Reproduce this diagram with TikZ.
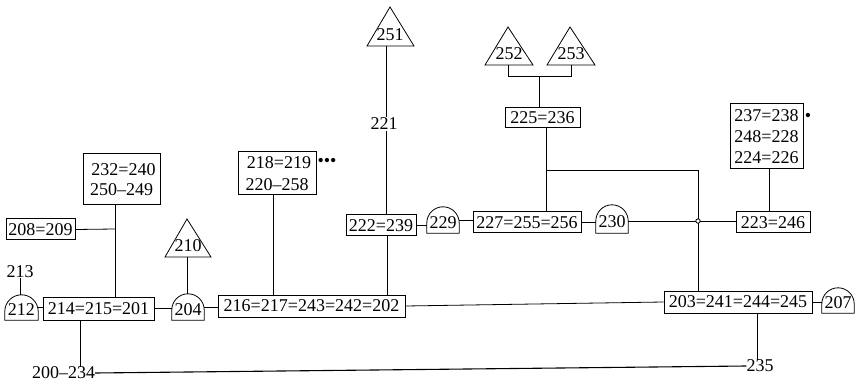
\documentclass[tikz,border=0pt]{standalone}
\usepackage{fontspec}
\setmainfont{Liberation Serif}
\usetikzlibrary{calc}
\newcommand\mydome[1]{\draw[ln] let \p1=(#1.south west), \p2=(#1.north east), \n1={(\x2-\x1)/2} in (\x1,\y1) -- (\x1,{\y2-\n1}) arc[start angle=180, end angle=0, radius=\n1] -- (\x2,\y1) -- cycle;}
\begin{document}
\begin{tikzpicture}[x=1pt,y=-1pt,
  txt/.style={font=\fontsize{18}{21}\selectfont},
  lbl/.style={txt, inner sep=0pt},
  box/.style={draw, line width=1pt, inner sep=0pt, txt, align=center},
  ln/.style={line width=0.8pt},
  domen/.style={lbl}
]
\useasboundingbox (0,0) rectangle (856,387);

% boxes
\node[box, minimum width=69pt, minimum height=21pt] (b208) at (40.5,229.5) {208=209};
\node[box, minimum width=77pt, minimum height=51pt, font=\fontsize{18}{20}\selectfont] (b232) at (121.5,179.5) {\hspace*{4pt}232=240\\250\textendash249};
\node[box, minimum width=111pt, minimum height=23pt] (b214) at (98.5,308.5) {214=215=201};
\node[box, minimum width=187pt, minimum height=22pt] (b216) at (311.5,306) {216=217=243=242=202};
\node[box, minimum width=78pt, minimum height=43pt, font=\fontsize{18}{22}\selectfont] (b218) at (277,173.5) {\hspace*{4pt}218=219\\220\textendash258};
\node[box, minimum width=70pt, minimum height=21pt] (b222) at (381,225.5) {222=239};
\node[box, minimum width=108pt, minimum height=21pt] (b227) at (527,222.5) {227=255=256};
\node[box, minimum width=75pt, minimum height=20pt] (b225) at (542.5,118) {225=236};
\node[box, minimum width=73pt, minimum height=65pt, font=\fontsize{18}{21}\selectfont] (b237) at (766.5,136.5) {237=238\\248=228\\224=226};
\node[box, minimum width=74pt, minimum height=21pt] (b223) at (773,222.5) {223=246};
\node[box, minimum width=148pt, minimum height=22pt] (b203) at (738,302) {203=241=244=245};

% domes
\node[domen, minimum width=33pt, minimum height=25pt] (d212) at (21.5,307.5) {};
\node[lbl] at (21.5,310) {212};
\node[domen, minimum width=32pt, minimum height=26pt] (d204) at (188,307) {};
\node[lbl] at (188,309.5) {204};
\node[domen, minimum width=32pt, minimum height=26pt] (d229) at (443,220) {};
\node[lbl] at (443,223) {229};
\node[domen, minimum width=32pt, minimum height=28pt] (d230) at (612,219) {};
\node[lbl] at (612,222) {230};
\node[domen, minimum width=32pt, minimum height=25pt] (d207) at (838,300.5) {};
\node[lbl] at (838,303) {207};
\mydome{d212}
\mydome{d204}
\mydome{d229}
\mydome{d230}
\mydome{d207}

% triangles
\draw[ln] (187,219) -- (211,257) -- (165,257) -- cycle;
\node[lbl] (t210) at (188,246) {210};
\coordinate (t210b) at (187,257);
\draw[ln] (390,7) -- (414,46) -- (367,46) -- cycle;
\node[lbl] (t251) at (390,35) {251};
\coordinate (t251b) at (386,46);
\draw[ln] (508,27) -- (533,65) -- (485,65) -- cycle;
\node[lbl] (t252) at (509,54) {252};
\coordinate (t252b) at (508,65);
\draw[ln] (570,27) -- (595,65) -- (547,65) -- cycle;
\node[lbl] (t253) at (571,54) {253};
\coordinate (t253b) at (571,65);

% free labels
\node[lbl] (l213) at (20,272) {213};
\node[lbl] (l200) at (63.5,373) {200\textendash234};
\node[lbl] (l235) at (760,366) {235};
\node[lbl] (dots1) at (327,162) {•••};
\node[lbl] (dots2) at (808,117) {•};

% helper coordinates
\coordinate (c1) at (115,229);
\coordinate (c2) at (546,170);
\coordinate (c3) at (698,170);
\coordinate (hop) at (698,221);
\coordinate (br) at (539,76);
\coordinate (c4) at (80,340);
\coordinate (c5) at (757,340);

% connectors
\draw[ln] (b208.east) -- (c1);
\draw[ln] (c1 |- b232.south) -- (c1 |- b214.north);
\draw[ln] (l213.south) -- (l213.south |- d212.north);
\draw[ln] (d212.east) -- (d212.east -| b214.west);
\draw[ln] (b214.east) -- (b214.east -| d204.west);
\draw[ln] (t210b) -- (t210b |- d204.north);
\draw[ln] (d204.east) -- (d204.east -| b216.west);
\draw[ln] ([xshift=-4pt]b218.south) -- ([xshift=-4pt]b218.south |- b216.north);
\draw[ln] (t251b) -- (t251b |- b222.north);
\node[lbl, fill=white, inner sep=1pt] (l221) at (384,124) {221};
\draw[ln] ([xshift=6pt]b222.south) -- ([xshift=6pt]b222.south |- b216.north);
\draw[ln] (b222.east) -- (b222.east -| d229.west);
\draw[ln] (d229.east) -- (d229.east -| b227.west);
\draw[ln] (b227.east) -- (b227.east -| d230.west);
\draw[ln] (d230.east |- hop) -- (hop -| b223.west);
\draw[ln] (t252b) -- (t252b |- br) -- (t253b |- br) -- (t253b);
\draw[ln] (br) -- (br |- b225.north);
\draw[ln] (c2 |- b225.south) -- (c2 |- b227.north);
\draw[ln] (c2) -- (c3) -- (c3 |- b203.north);
\draw[ln, fill=white] (hop) circle (2.2pt);
\draw[ln] ([xshift=2.5pt]b237.south) -- ([xshift=2.5pt]b237.south |- b223.north);
\draw[ln] (b216.east) -- (b203.west);
\draw[ln] (b203.east) -- (b203.east -| d207.west);
\draw[ln] (c4 |- b214.south) -- (c4 |- l200.north);
\draw[ln, line width=1.1pt] (l200.east) -- (l235.west);
\draw[ln] (c5 |- b203.south) -- (c5 |- l235.north);
\end{tikzpicture}
\end{document}
